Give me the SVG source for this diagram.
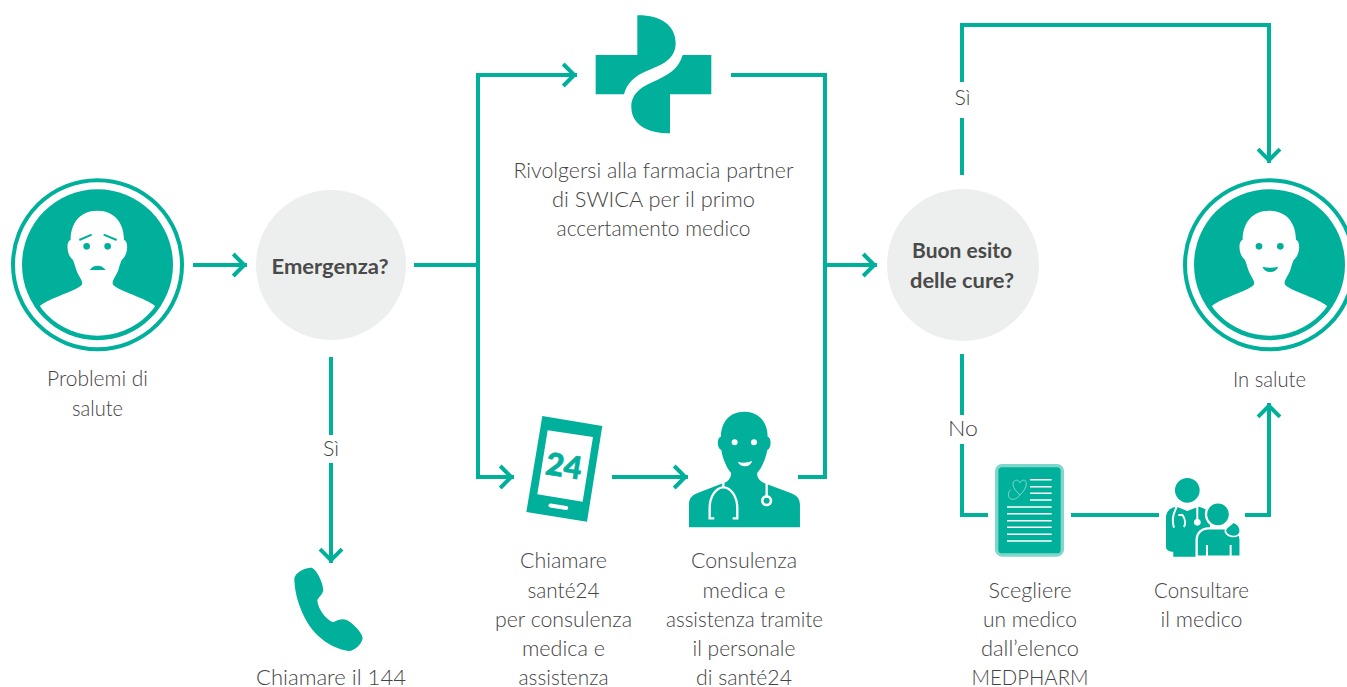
<svg xmlns="http://www.w3.org/2000/svg" xmlns:xlink="http://www.w3.org/1999/xlink" width="1347" height="687" viewBox="0 0 1347 687">
<style>
.t{font-family:"Lato","Liberation Sans",sans-serif;font-weight:300;font-size:21px;fill:#444;text-anchor:middle}
.b{font-family:"Lato","Liberation Sans",sans-serif;font-weight:700;font-size:20.5px;fill:#4a4a4a;text-anchor:middle}
.c{fill:none;stroke:#00b09b;stroke-width:4}
.f{fill:#00b09b}
.w{fill:#fff}
.g{fill:#edeeee}
</style>
<defs>
<marker id="a" viewBox="0 0 20 30" refX="18.300" refY="15" markerWidth="20" markerHeight="30" markerUnits="userSpaceOnUse" orient="auto"><path d="M4.500,4L15.500,15L4.500,26" fill="none" stroke="#00b09b" stroke-width="4"/></marker>
<clipPath id="disc"><circle cx="97.500" cy="264.700" r="71"/></clipPath>
<g id="person">
<circle cx="97.500" cy="264.700" r="84.500" fill="none" stroke="#00b09b" stroke-width="4"/>
<circle cx="97.500" cy="264.700" r="75.500" class="f"/>
<g clip-path="url(#disc)"><path class="w" transform="translate(0,170) scale(.3333)" d="M292,122C345,122 372,160 372,210C385,212 385,250 370,265C362,272 362,280 355,300C348,320 332,335 340,345C360,365 440,385 465,408L470,520H115L120,408C145,385 225,365 245,345C252,335 236,320 229,300C222,280 222,272 214,265C199,250 199,212 212,210C212,160 239,122 292,122Z"/></g>
</g>
</defs>

<g id="connectors">
<path class="c" d="M193,265H247" marker-end="url(#a)"/>
<path class="c" d="M414,265H478"/>
<path class="c" d="M478,477V75H577" marker-end="url(#a)"/>
<path class="c" d="M478,265V477H514" marker-end="url(#a)"/>
<path class="c" d="M612,477H688" marker-end="url(#a)"/>
<path class="c" d="M731,75H825V477H798"/>
<path class="c" d="M825,265H877" marker-end="url(#a)"/>
<path class="c" d="M331,357V435"/>
<path class="c" d="M331,463V563" marker-end="url(#a)"/>
<path class="c" d="M962,175V118"/>
<path class="c" d="M962,82V25H1269V163" marker-end="url(#a)"/>
<path class="c" d="M962,354V415"/>
<path class="c" d="M962,444V515H988"/>
<path class="c" d="M1071,515H1159"/>
<path class="c" d="M1245,515H1269V403" marker-end="url(#a)"/>
</g>

<g id="problemi">
<use href="#person"/>
<g transform="translate(0,170) scale(.3333)">
<circle class="f" cx="260" cy="229" r="10"/><circle class="f" cx="323" cy="229" r="10"/>
<path d="M238,210L275,194M311,194L350,210" stroke="#00b09b" stroke-width="6" fill="none"/>
<path class="f" d="M269,300C280,283 305,283 317,300Z"/>
</g>
<text class="t" x="97.500" y="386" textLength="101" lengthAdjust="spacingAndGlyphs">Problemi di</text><text class="t" x="97.500" y="416" textLength="51" lengthAdjust="spacingAndGlyphs">salute</text>
</g>

<g id="emergenza"><circle class="g" cx="331" cy="265" r="75"/><text class="b" x="330" y="274" textLength="117" lengthAdjust="spacingAndGlyphs">Emergenza?</text></g>

<g id="telefono">
<path class="f" transform="translate(270,530) scale(.3333)" d="M73,150C72,125 110,112 125,113C140,118 160,160 160,180C158,195 142,205 142,212C145,240 170,270 190,277C205,270 215,265 230,270C250,280 278,310 278,325C275,345 250,365 235,363C180,355 130,315 105,265C85,225 75,190 73,150Z"/>
<text class="t" x="331" y="685" textLength="150" lengthAdjust="spacingAndGlyphs">Chiamare il 144</text>
</g>

<g id="farmacia">
<g class="f" transform="translate(560,5) scale(.3333)">
<path d="M107,150H232V31C300,30 347,60 347,115C347,170 290,185 255,200C225,213 200,235 192,268H107Z"/>
<path d="M368,150H454V268H330V385C265,385 214,360 214,305C214,265 245,245 280,230C320,212 355,195 368,150Z"/>
</g>
<text class="t" x="653.500" y="177.500" textLength="280" lengthAdjust="spacingAndGlyphs">Rivolgersi alla farmacia partner</text>
<text class="t" x="653.500" y="207" textLength="203" lengthAdjust="spacingAndGlyphs">di SWICA per il primo</text>
<text class="t" x="653.500" y="236" textLength="194" lengthAdjust="spacingAndGlyphs">accertamento medico</text>
</g>

<g id="sante24">
<g transform="translate(510,400) scale(.3333)">
<path class="f" d="M97,48L277,78L231,365L49,336Z"/>
<path class="w" d="M113,91L249,111L218,305L82,283Z"/>
<rect class="w" x="115" y="314" width="60" height="12" rx="6" transform="rotate(9 145 320)"/>
</g>
<text transform="translate(564,466) rotate(9)" y="11" text-anchor="middle" font-family="Lato,'Liberation Sans',sans-serif" font-weight="900" font-size="31" fill="#00b09b" stroke="#00b09b" stroke-width=".7">24</text>
<text class="t" x="563.500" y="568" textLength="87" lengthAdjust="spacingAndGlyphs">Chiamare</text>
<text class="t" x="563.500" y="598" textLength="72" lengthAdjust="spacingAndGlyphs">santé24</text>
<text class="t" x="563.500" y="627" textLength="137" lengthAdjust="spacingAndGlyphs">per consulenza</text>
<text class="t" x="563.500" y="656" textLength="83" lengthAdjust="spacingAndGlyphs">medica e</text>
<text class="t" x="563.500" y="685" textLength="90" lengthAdjust="spacingAndGlyphs">assistenza</text>
</g>

<g id="consulenza">
<g transform="translate(510,400) scale(.3333)">
<path class="f" d="M703,35C750,35 773,70 773,110C785,112 785,145 772,150C768,175 755,205 742,218C740,230 745,240 760,248L840,278C860,285 870,295 870,315V382H537V315C537,295 545,285 565,278L650,245C660,238 665,228 663,218C650,205 638,175 634,150C620,145 620,112 633,110C633,70 656,35 703,35Z"/>
<circle class="w" cx="674" cy="127" r="9"/><circle class="w" cx="732" cy="127" r="9"/>
<path class="w" d="M683,185Q703,192 727,183Q720,200 705,199Q690,199 683,185Z"/>
<path d="M613,355H599V325C599,290 618,262 640,262C664,262 682,292 682,325V355H668M640,262V245M770,250V290" fill="none" stroke="#fff" stroke-width="7"/>
<circle cx="770" cy="302" r="13" fill="#00b09b" stroke="#fff" stroke-width="8"/>
</g>
<text class="t" x="744" y="568" textLength="106" lengthAdjust="spacingAndGlyphs">Consulenza</text>
<text class="t" x="744" y="598" textLength="83" lengthAdjust="spacingAndGlyphs">medica e</text>
<text class="t" x="744.500" y="627" textLength="157" lengthAdjust="spacingAndGlyphs">assistenza tramite</text>
<text class="t" x="744" y="656" textLength="103" lengthAdjust="spacingAndGlyphs">il personale</text>
<text class="t" x="744" y="685" textLength="96" lengthAdjust="spacingAndGlyphs">di santé24</text>
</g>

<g id="esito"><circle class="g" cx="963" cy="265" r="76"/><text class="b" x="962" y="258" textLength="100" lengthAdjust="spacingAndGlyphs">Buon esito</text><text class="b" x="962" y="288" textLength="104" lengthAdjust="spacingAndGlyphs">delle cure?</text></g>

<g id="elenco">
<g transform="translate(980,455) scale(.3333)">
<rect x="50" y="32" width="197" height="268" rx="16" class="f" stroke="#7fd7cb" stroke-width="10"/>
<path d="M150,74H215M150,95H215M150,115H215M150,135H215M81,156H215M81,176H215M81,197H215M81,217H215M81,238H215M81,258H215" stroke="#fff" stroke-width="4.500" fill="none"/>
<path d="M120,120C103,105 93,88 103,78C112,72 118,78 120,84C122,78 130,72 137,78C144,90 132,108 120,120C112,132 92,140 86,125C83,115 88,108 92,104" fill="none" stroke="#7fd7cb" stroke-width="3"/>
</g>
<text class="t" x="1030" y="597.500" textLength="83" lengthAdjust="spacingAndGlyphs">Scegliere</text>
<text class="t" x="1030" y="626.500" textLength="94" lengthAdjust="spacingAndGlyphs">un medico</text>
<text class="t" x="1030" y="656" textLength="98" lengthAdjust="spacingAndGlyphs">dall’elenco</text>
<text class="t" x="1030" y="685" textLength="117" lengthAdjust="spacingAndGlyphs">MEDPHARM</text>
</g>

<g id="medico">
<g transform="translate(980,455) scale(.3333)">
<circle class="f" cx="622" cy="106" r="37"/>
<path class="f" d="M558,190C558,168 572,157 590,155L622,168L655,155C675,158 690,170 690,190V305H580V290C568,290 558,285 558,275Z"/>
<path d="M590,155L582,175C577,190 578,205 582,218M595,180H607C615,190 618,205 612,216M652,155V200" fill="none" stroke="#fff" stroke-width="6"/>
<circle class="w" cx="652" cy="202" r="10"/>
<circle class="f" cx="714" cy="178" r="36" stroke="#fff" stroke-width="7"/>
<path class="f" d="M650,305V255C650,235 665,220 685,220H745C765,220 782,235 782,255V305Z" stroke="#fff" stroke-width="7"/>
<path d="M681,270V305M752,270V305" stroke="#fff" stroke-width="6" fill="none"/>
<path class="f" d="M760,201C770,205 781,215 781,228C781,240 770,246 755,244C742,242 733,232 737,222C742,215 752,210 760,201Z" stroke="#fff" stroke-width="5"/>
</g>
<text class="t" x="1201.500" y="597.500" textLength="95" lengthAdjust="spacingAndGlyphs">Consultare</text>
<text class="t" x="1201.500" y="626.500" textLength="82" lengthAdjust="spacingAndGlyphs">il medico</text>
</g>

<g id="salute">
<use href="#person" x="1172"/>
<g transform="translate(1172,170) scale(.3333)">
<circle class="f" cx="261" cy="229" r="10"/><circle class="f" cx="325" cy="229" r="10"/>
<path class="f" d="M271,290Q295,296 319,290Q312,306 295,306Q278,306 271,290Z"/>
</g>
<text class="t" x="1269.500" y="387" textLength="73" lengthAdjust="spacingAndGlyphs">In salute</text>
</g>

<g id="labels">
<text class="t" x="331" y="456" textLength="16" lengthAdjust="spacingAndGlyphs">Sì</text>
<text class="t" x="962.500" y="105" textLength="16" lengthAdjust="spacingAndGlyphs">Sì</text>
<text class="t" x="963" y="436" textLength="30" lengthAdjust="spacingAndGlyphs">No</text>
</g>
</svg>
